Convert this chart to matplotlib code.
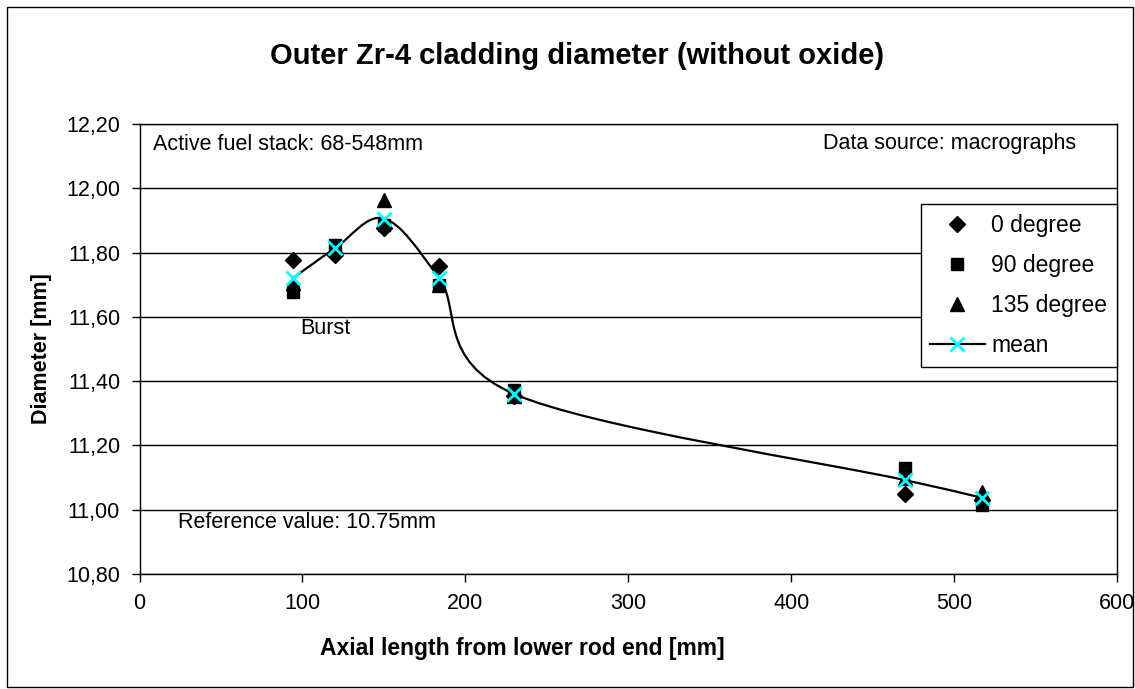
import matplotlib
matplotlib.use("Agg")
import matplotlib.pyplot as plt
from matplotlib.path import Path
from matplotlib.patches import PathPatch, Rectangle
from matplotlib.lines import Line2D

plt.rcParams['font.family'] = ['Liberation Sans', 'DejaVu Sans']

# axial positions [mm] and measured outer diameters [mm]
pos = [94, 120, 150, 184, 230, 470, 517]
deg0 = [11.777, 11.792, 11.875, 11.758, 11.354, 11.048, 11.030]
deg90 = [11.678, 11.824, 11.885, 11.699, 11.372, 11.129, 11.015]
deg135 = [11.705, 11.820, 11.963, 11.700, 11.354, 11.100, 11.056]
mean = [11.720, 11.813, 11.906, 11.720, 11.360, 11.092, 11.037]

x_ticks = [0, 100, 200, 300, 400, 500, 600]
y_ticks = [10.8, 11.0, 11.2, 11.4, 11.6, 11.8, 12.0, 12.2]
y_labels = ['10,80', '11,00', '11,20', '11,40', '11,60', '11,80', '12,00', '12,20']


def smooth_path(xs, ys, t=1.0 / 6):
    # Excel-like smoothed line: cubic Bezier segments (Catmull-Rom control points)
    pts = list(zip(xs, ys))
    n = len(pts)
    verts = [pts[0]]
    codes = [Path.MOVETO]
    for i in range(n - 1):
        p0 = pts[i - 1] if i > 0 else pts[i]
        p1 = pts[i]
        p2 = pts[i + 1]
        p3 = pts[i + 2] if i + 2 < n else pts[i + 1]
        c1 = (p1[0] + (p2[0] - p0[0]) * t, p1[1] + (p2[1] - p0[1]) * t)
        c2 = (p2[0] - (p3[0] - p1[0]) * t, p2[1] - (p3[1] - p1[1]) * t)
        verts += [c1, c2, p2]
        codes += [Path.CURVE4] * 3
    return Path(verts, codes)


W, H = 1135, 689
fig = plt.figure(figsize=(W / 100, H / 100), dpi=100)
ax = fig.add_axes([139.5 / W, (H - 574) / H, (1117 - 139.5) / W, (574 - 124) / H])

ax.plot(pos, deg0, linestyle='none', marker='D', ms=8, color='black', label='0 degree', zorder=3)
ax.plot(pos, deg90, linestyle='none', marker='s', ms=9, color='black', label='90 degree', zorder=3)
ax.plot(pos, deg135, linestyle='none', marker='^', ms=9.5, color='black', label='135 degree', zorder=3)
ax.add_patch(PathPatch(smooth_path(pos, mean), facecolor='none', edgecolor='black', lw=1.6, zorder=4))
ax.plot(pos, mean, linestyle='none', marker='x', ms=10, mew=2, color='cyan', zorder=5)

ax.set_xlim(0, 600)
ax.set_ylim(10.8, 12.2)
ax.set_xticks(x_ticks)
ax.set_yticks(y_ticks)
ax.set_yticklabels(y_labels)
ax.tick_params(labelsize=15.5, direction='out', length=6, width=1, pad=8, colors='black')
ax.yaxis.grid(True, color='black', lw=1)
ax.set_axisbelow(True)
for s in ax.spines.values():
    s.set_color('black')
    s.set_linewidth(1)

ax.text(8.3, 12.135, 'Active fuel stack: 68-548mm', fontsize=15.5, va='center', ha='left')
ax.text(575, 12.14, 'Data source: macrographs', fontsize=15.5, va='center', ha='right')
ax.text(98.5, 11.565, 'Burst', fontsize=15.5, va='center', ha='left')
ax.text(23.4, 10.96, 'Reference value: 10.75mm', fontsize=15.5, va='center', ha='left')

handles = [
    Line2D([], [], linestyle='none', marker='D', ms=8, color='black'),
    Line2D([], [], linestyle='none', marker='s', ms=9, color='black'),
    Line2D([], [], linestyle='none', marker='^', ms=9.5, color='black'),
    Line2D([], [], color='black', lw=1.6, marker='x', ms=10, mew=2, mec='cyan'),
]
leg = ax.legend(handles, ['0 degree', '90 degree', '135 degree', 'mean'],
                loc='upper right', bbox_to_anchor=(1.0, 0.822), fontsize=16.5,
                frameon=True, fancybox=False, framealpha=1, edgecolor='black',
                handlelength=2.36, handletextpad=0.3, labelspacing=0.75,
                borderpad=0.42, borderaxespad=0)
leg.get_frame().set_linewidth(1)

ax.set_xlabel('Axial length from lower rod end [mm]', fontsize=16.5, fontweight='bold')
ax.xaxis.set_label_coords((522 - 139.5) / (1117 - 139.5), -(648 - 574) / (574 - 124))
ax.set_ylabel('Diameter [mm]', fontsize=15.5, fontweight='bold')
ax.yaxis.set_label_coords(-(139.5 - 42) / (1117 - 139.5), 0.5)
ax.xaxis.label.set_va('center')
ax.yaxis.label.set_va('center')

fig.text(577 / W, 1 - 56 / H, 'Outer Zr-4 cladding diameter (without oxide)',
         fontsize=21, fontweight='bold', ha='center', va='center')

fig.add_artist(Rectangle((7 / W, 2 / H), (1133 - 7) / W, (H - 9) / H, transform=fig.transFigure,
                         fill=False, edgecolor='black', lw=1))

fig.savefig('out.png', dpi=100)
